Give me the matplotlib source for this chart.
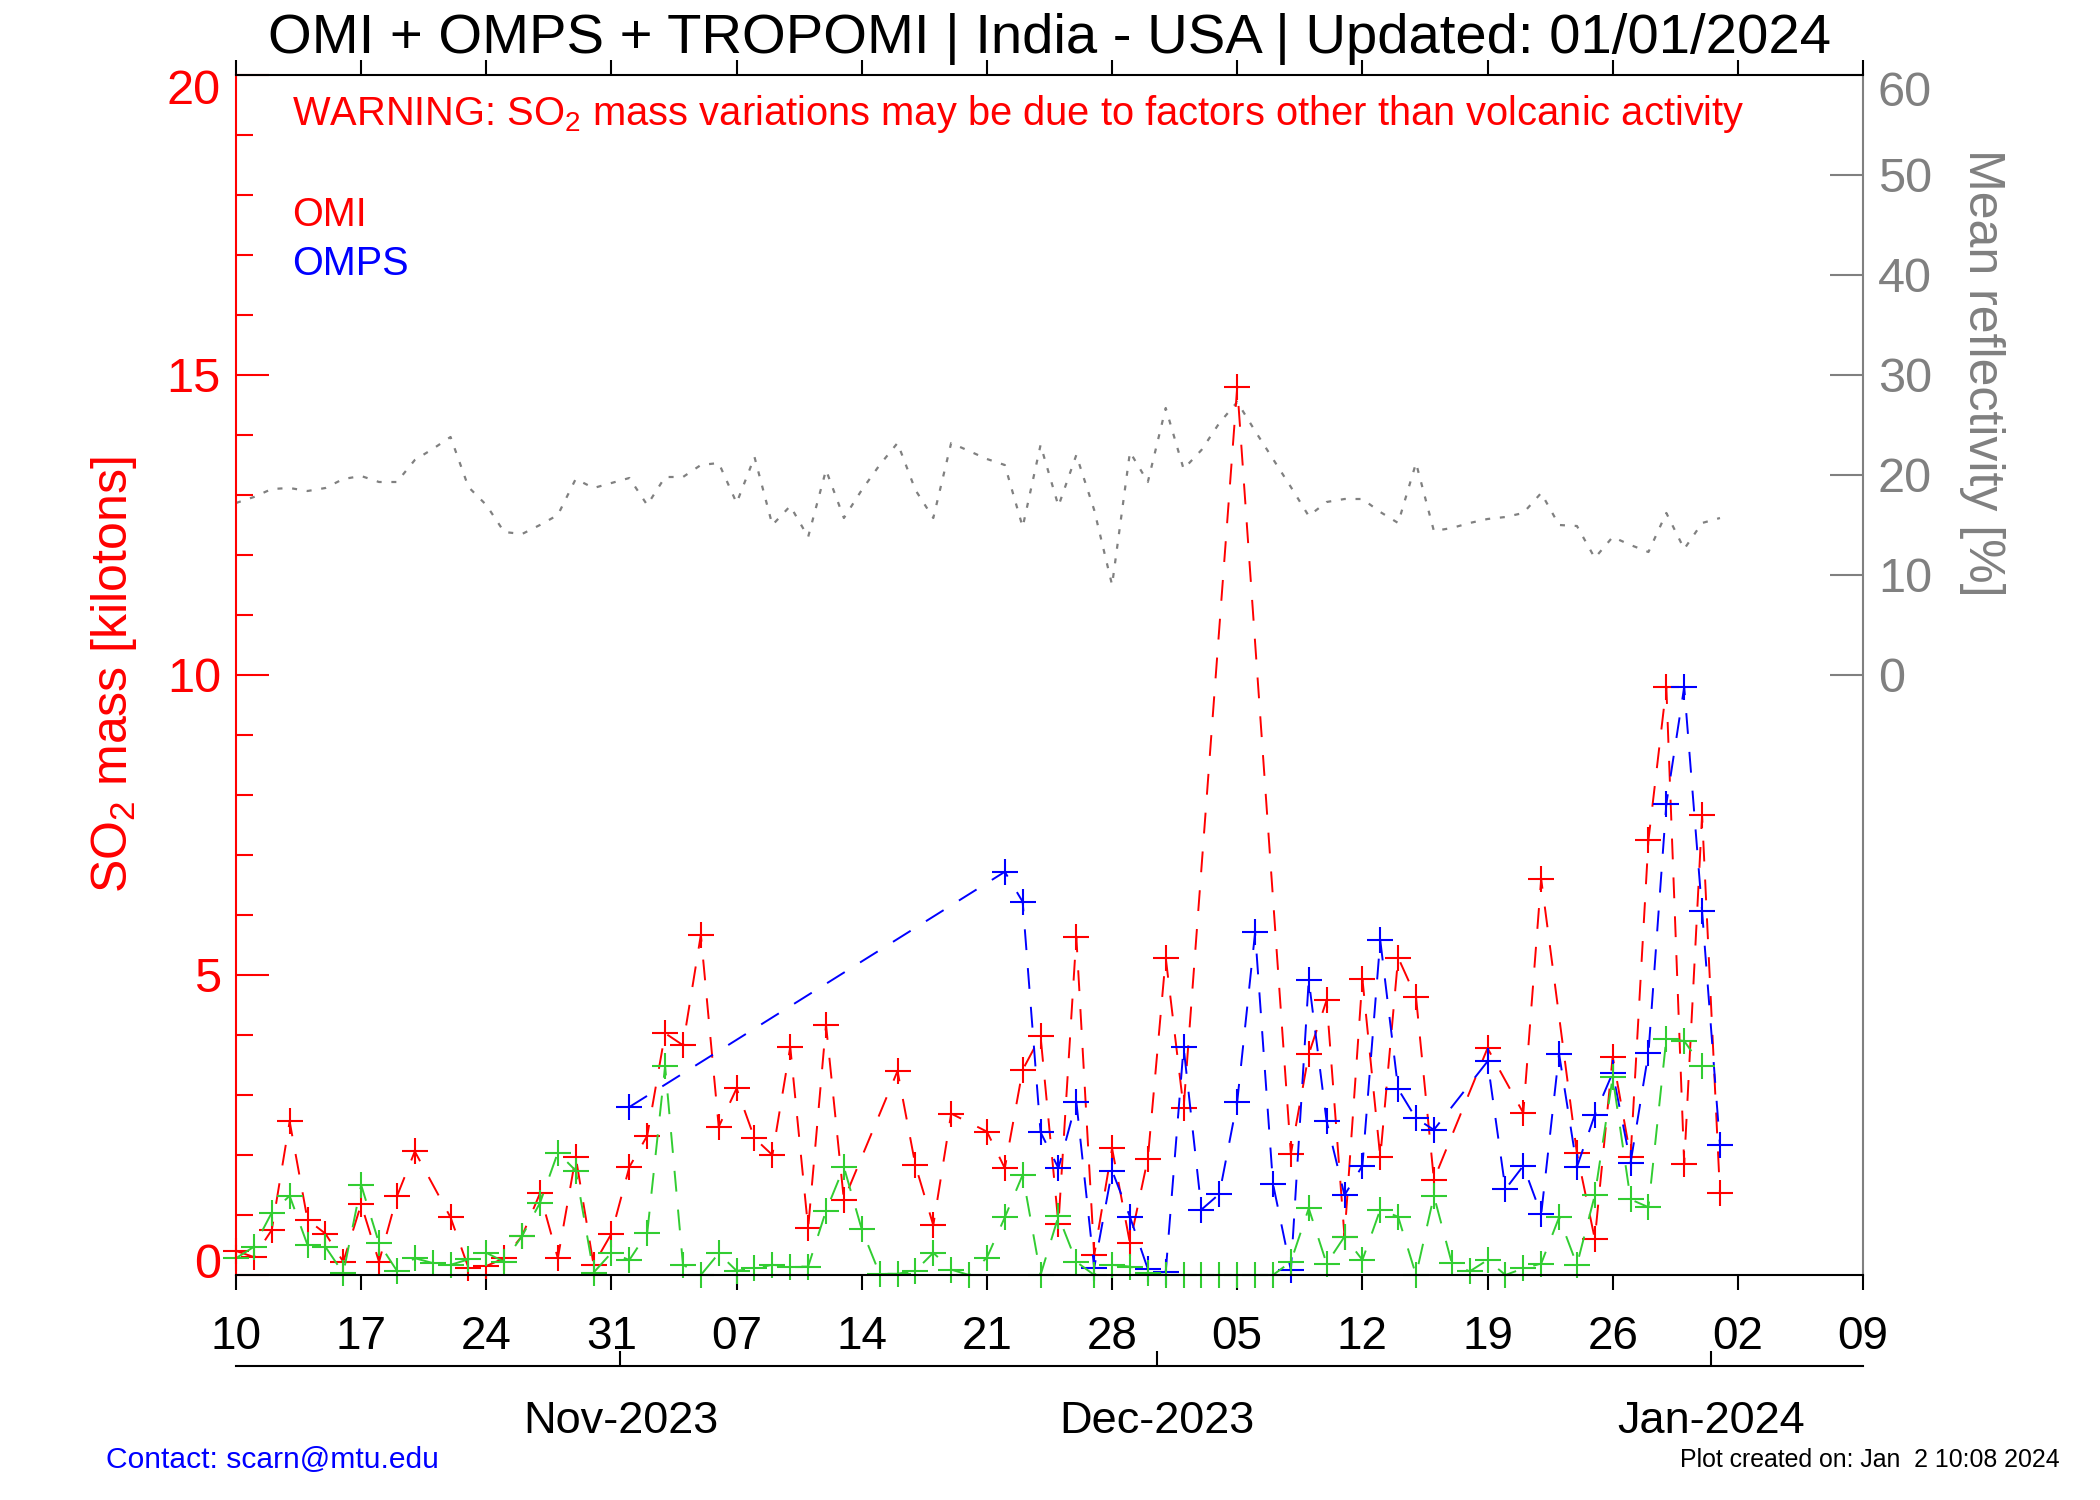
import numpy as np
import pandas as pd
import matplotlib
matplotlib.use("Agg")
import matplotlib.pyplot as plt
import matplotlib.transforms as mtransforms
from matplotlib.ticker import MultipleLocator, FixedLocator

plt.rcParams['font.family'] = ['Liberation Sans', 'DejaVu Sans']
plt.rcParams['mathtext.fontset'] = 'custom'
plt.rcParams['mathtext.rm'] = 'Liberation Sans'
plt.rcParams['mathtext.it'] = 'Liberation Sans:italic'
plt.rcParams['mathtext.bf'] = 'Liberation Sans:bold'
plt.rcParams['lines.scale_dashes'] = False

nan = np.nan
start_date = '2023-10-10 12:00'
n_days = 84

omi = [0.4, 0.3, 0.75, 2.56, 0.92, 0.69, 0.22, 1.18, 0.22, 1.31,
       2.06, nan, 0.96, 0.12, 0.15, 0.28, 0.65, 1.36, 0.28, 1.97,
       0.17, 0.69, 1.8, 2.32, 4.03, 3.83, 5.67, 2.47, 3.11, 2.28,
       2.0, 3.8, 0.78, 4.17, 1.25, nan, nan, 3.4, 1.83, 0.83,
       2.69, nan, 2.39, 1.78, 3.42, 3.98, 0.85, 5.64, 0.33, 2.11,
       0.53, 1.94, 5.29, 2.78, nan, nan, 14.8, nan, nan, 2.02,
       3.68, 4.58, 0.64, 4.94, 1.96, 5.29, 4.63, 1.59, nan, nan,
       3.78, nan, 2.7, 6.6, nan, 2.03, 0.6, 3.64, 1.97, 7.25,
       9.8, 1.85, 7.66, 1.36]

omps = [nan] * 22 + [2.8] + [nan] * 20 + [
        6.72, 6.22, 2.38, 1.78, 2.89, 0.12, 1.74, 0.97, 0.1,
        0.05, 3.8, 1.09, 1.35, 2.89, 5.71, 1.52, 0.08, 4.92, 2.56,
        1.33, 1.82, 5.58, 3.1, 2.61, 2.42, nan, nan, 3.56, 1.43,
        1.82, 1.01, 3.69, 1.8, 2.67, 3.37, 1.87, 3.7, 7.85, 9.8,
        6.06, 2.17]

tropomi = [0.28, 0.47, 1.04, 1.32, 0.5, 0.47, 0.03, 1.5, 0.53, 0.07,
           0.28, 0.2, 0.17, 0.26, 0.37, 0.22, 0.65, 1.2, 2.04, 1.74,
           0.04, 0.37, 0.25, 0.7, 3.48, 0.17, 0.0, 0.36, 0.07, 0.11,
           0.17, 0.14, 0.14, 1.07, 1.8, 0.76, 0.02, 0.02, 0.07, 0.37,
           0.09, 0.0, 0.29, 0.96, 1.67, 0.0, 0.98, 0.22, 0.0, 0.17,
           0.14, 0.03, 0.0, 0.0, 0.0, 0.0, 0.0, 0.0, 0.0, 0.22,
           1.11, 0.19, 0.64, 0.25, 1.09, 0.97, 0.0, 1.32, 0.2, 0.06,
           0.25, 0.0, 0.11, 0.19, 0.96, 0.17, 1.33, 3.3, 1.26, 1.13,
           3.94, 3.9, 3.48, nan]

reflectivity = [17.2, 17.8, 18.6, 18.7, 18.4, 18.7, 19.6, 19.9, 19.3, 19.3,
                21.5, 22.6, 23.8, 18.8, 17.0, 14.3, 14.1, 15.0, 16.0, 19.6,
                18.7, 19.2, 19.7, 17.0, 19.8, 19.8, 21.0, 21.2, 17.2, 21.8,
                15.0, 16.9, 13.8, 20.5, 15.7, 18.5, 21.0, 23.2, 18.5, 15.7,
                23.2, 22.4, 21.6, 21.0, 14.8, 23.0, 16.9, 22.0, 16.5, 9.0,
                22.3, 19.3, 26.7, 20.6, 22.5, 25.2, 27.3, 24.4, 21.6, 18.8,
                15.9, 17.3, 17.6, 17.6, 16.3, 15.2, 21.2, 14.4, 14.7, 15.2,
                15.6, 15.8, 16.2, 18.2, 15.0, 14.9, 11.7, 13.8, 13.0, 12.3,
                16.2, 12.6, 15.2, 15.7]

day_tick_labels = ['10', '17', '24', '31', '07', '14', '21', '28',
                   '05', '12', '19', '26', '02', '09']
month_labels = ['Nov-2023', 'Dec-2023', 'Jan-2024']
month_starts = ['2023-11-01', '2023-12-01', '2024-01-01']

title = 'OMI + OMPS + TROPOMI | India - USA | Updated: 01/01/2024'
warning = 'WARNING: SO$_2$ mass variations may be due to factors other than volcanic activity'

dates = pd.date_range(start_date, periods=n_days, freq='D')
day_ticks = pd.date_range(start_date, periods=len(day_tick_labels), freq='7D')
x_min, x_max = day_ticks[0], day_ticks[-1]

W, H = 2100, 1500
fig = plt.figure(figsize=(21, 15), dpi=100)
L, R, T, B = 236, 1863, 75, 1275
ax = fig.add_axes([L / W, 1 - B / H, (R - L) / W, (B - T) / H])
axr = ax.twinx()

px = 72 / 100.0  # points per pixel

# reflectivity on right axis
axr.plot(dates, reflectivity, color='#808080', lw=1.6, dashes=(3.6, 7.0))
axr.set_ylim(-60, 60)
axr.set_yticks(range(0, 61, 10))
axr.tick_params(axis='y', direction='in', length=33 * px, width=1.5,
                colors='#808080', labelsize=35, pad=15 * px)
for s in ['left', 'top', 'bottom']:
    axr.spines[s].set_visible(False)
axr.spines['right'].set_color('#808080')
axr.spines['right'].set_linewidth(1.5)

ax.set_zorder(axr.get_zorder() + 1)
ax.patch.set_visible(False)

series = [(omi, 'red'), (omps, 'blue'), (tropomi, '#32cd32')]
for vals, col in series:
    v = np.array(vals, dtype=float)
    m = ~np.isnan(v)
    ax.plot(dates[m], v[m], color=col, lw=1.4, dashes=(15, 13),
            marker='+', ms=19, mew=1.5, clip_on=False)

ax.set_xlim(x_min, x_max)
ax.set_ylim(0, 20)
ax.set_yticks([0, 5, 10, 15, 20])
ax.yaxis.set_minor_locator(MultipleLocator(1))
ax.tick_params(axis='y', which='major', direction='in', length=33 * px,
               width=1.5, colors='red', labelsize=35, pad=15 * px)
ax.tick_params(axis='y', which='minor', direction='in', length=17 * px,
               width=1.5, colors='red')
ax.set_xticks(day_ticks)
ax.set_xticklabels(day_tick_labels)
ax.tick_params(axis='x', which='both', direction='out', length=15 * px,
               width=1.5, top=True, labelsize=33, pad=25 * px, colors='black')
ax.xaxis.set_minor_locator(FixedLocator([]))
ax.spines['left'].set_color('red')
ax.spines['right'].set_visible(False)
for s in ['left', 'top', 'bottom']:
    ax.spines[s].set_linewidth(1.5)

# end labels sit slightly inside the axis range, as in the original
def shift_label(lbl, dy_px):
    off = mtransforms.ScaledTranslation(0, dy_px / 100.0, fig.dpi_scale_trans)
    lbl.set_transform(lbl.get_transform() + off)

ylabels = ax.get_yticklabels()
shift_label(ylabels[0], 15)
shift_label(ylabels[-1], -12)
rlabels = axr.get_yticklabels()
shift_label(rlabels[-1], -13)

# month axis
MY = 1366
axm = fig.add_axes([L / W, 1 - MY / H, (R - L) / W, 0.0001])
axm.set_xlim(x_min, x_max)
axm.set_xticks(pd.to_datetime(month_starts))
axm.set_xticklabels(month_labels)
axm.set_yticks([])
axm.tick_params(axis='x', direction='in', length=15 * px, width=1.5,
                labelsize=32.5, pad=35 * px)
for s in ['left', 'top', 'right']:
    axm.spines[s].set_visible(False)
axm.spines['bottom'].set_linewidth(1.5)
axm.patch.set_visible(False)

# texts
fig.text(1049 / W, 1 - 53 / H, title, ha='center', va='baseline', fontsize=40.5)
fig.text(292 / W, 1 - 125 / H, warning, ha='left', va='baseline',
         fontsize=28.7, color='red')
fig.text(292 / W, 1 - 226 / H, 'OMI', ha='left', va='baseline',
         fontsize=28.5, color='red')
fig.text(292 / W, 1 - 275 / H, 'OMPS', ha='left', va='baseline',
         fontsize=28.5, color='blue')
fig.text(114 / W, 1 - 675 / H, 'SO$_2$ mass [kilotons]', rotation=90,
         ha='center', va='center', fontsize=36, color='red')
fig.text(1982 / W, 1 - 373 / H, 'Mean reflectivity [%]', rotation=-90,
         ha='center', va='center', fontsize=36, color='#808080')
fig.text(106 / W, 1 - 1460 / H, 'Contact: scarn@mtu.edu', ha='left',
         va='center', fontsize=21.6, color='blue')
fig.text(2060 / W, 1 - 1460 / H, 'Plot created on: Jan  2 10:08 2024',
         ha='right', va='center', fontsize=17.9, color='black')

fig.savefig('out.png', dpi=100)
